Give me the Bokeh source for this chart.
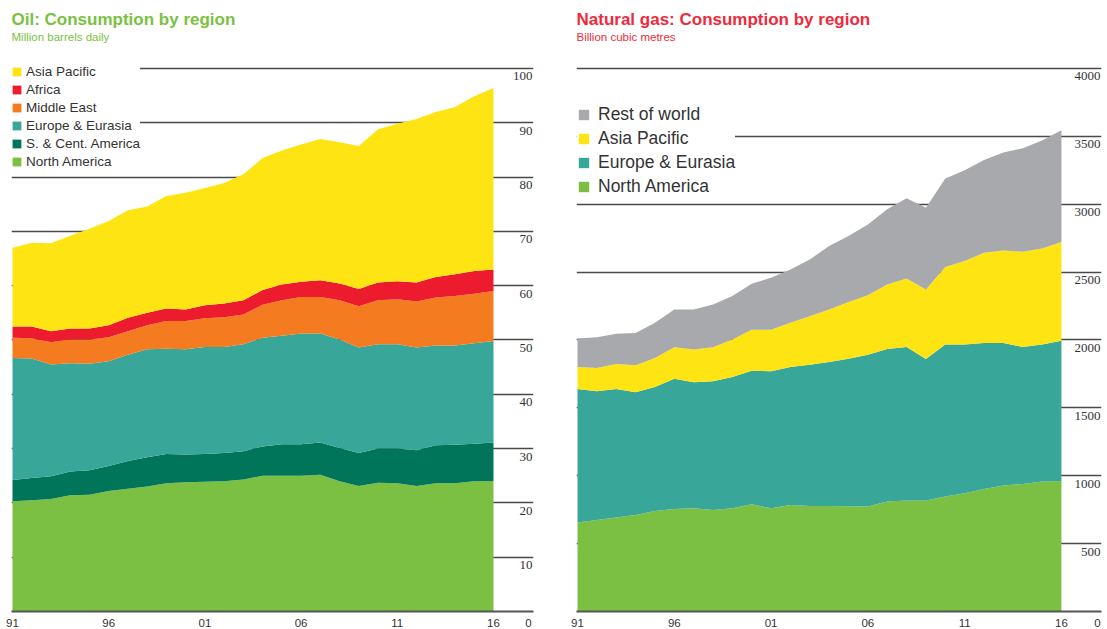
from bokeh.plotting import figure
from bokeh.models import (ColumnDataSource, Legend, LegendItem, LabelSet, Title,
                          FixedTicker, Range1d, Grid)
from bokeh.layouts import row
from bokeh.embed import file_html
from bokeh.resources import INLINE

years = list(range(1991, 2017))
year_ticks = [1991, 1996, 2001, 2006, 2011, 2016]
year_labels = ["91", "96", "01", "06", "11", "16"]

# Oil consumption, million barrels daily
oil_north_america = [20.3, 20.5, 20.7, 21.4, 21.5, 22.2, 22.6, 23.0, 23.6, 23.8, 23.9, 24.0, 24.3,
                     25.0, 25.0, 25.0, 25.2, 24.0, 23.1, 23.7, 23.6, 23.1, 23.6, 23.6, 24.0, 24.0]
oil_sc_america = [3.9, 4.1, 4.2, 4.4, 4.5, 4.6, 5.1, 5.4, 5.4, 5.1, 5.1, 5.2, 5.2,
                  5.4, 5.8, 5.8, 5.9, 6.1, 6.1, 6.3, 6.4, 6.6, 7.0, 7.1, 6.9, 7.1]
oil_europe_eurasia = [22.5, 22.0, 20.6, 19.9, 19.6, 19.3, 19.6, 19.9, 19.4, 19.4, 19.7, 19.5, 19.7,
                      20.0, 20.0, 20.4, 20.1, 20.0, 19.4, 19.2, 19.2, 18.9, 18.4, 18.3, 18.5, 18.7]
oil_middle_east = [3.7, 3.7, 4.1, 4.4, 4.5, 4.4, 4.3, 4.4, 5.1, 5.2, 5.3, 5.5, 5.5,
                   6.1, 6.5, 6.7, 6.7, 7.2, 7.6, 8.1, 8.3, 8.5, 8.8, 9.1, 9.1, 9.2]
oil_africa = [2.1, 2.2, 2.0, 2.0, 2.0, 2.2, 2.5, 2.3, 2.3, 2.1, 2.4, 2.5, 2.6,
              2.7, 2.9, 2.8, 3.1, 3.1, 3.2, 3.3, 3.3, 3.5, 3.8, 4.0, 4.2, 4.0]
oil_asia_pacific = [14.5, 15.4, 16.2, 17.1, 18.4, 19.2, 19.8, 19.6, 20.7, 21.5, 21.6, 22.2, 23.2,
                    24.3, 24.7, 25.3, 26.0, 26.0, 26.3, 28.2, 29.0, 30.1, 30.4, 30.8, 32.2, 33.4]
oil_ticks = [10, 20, 30, 40, 50, 60, 70, 80, 90, 100]
oil_tick_labels = ["10", "20", "30", "40", "50", "60", "70", "80", "90", "100"]

# Natural gas consumption, billion cubic metres
gas_north_america = [655, 674, 692, 711, 741, 755, 760, 748, 760, 790, 760, 785, 777,
                     777, 775, 773, 810, 817, 817, 847, 871, 903, 928, 940, 957, 962]
gas_europe_eurasia = [984, 948, 947, 903, 912, 960, 928, 947, 967, 984, 1009, 1016, 1041,
                      1061, 1087, 1119, 1124, 1132, 1043, 1119, 1095, 1075, 1050, 1009, 1009, 1033]
gas_asia_pacific = [162, 172, 184, 199, 214, 231, 241, 251, 276, 302, 307, 325, 357,
                    386, 417, 438, 474, 504, 512, 571, 615, 664, 681, 701, 708, 726]
gas_rest_of_world = [209, 226, 222, 239, 259, 278, 295, 315, 320, 338, 382, 393, 418,
                     468, 487, 521, 554, 590, 602, 653, 669, 683, 721, 762, 795, 824]
gas_ticks = [500, 1000, 1500, 2000, 2500, 3000, 3500, 4000]
gas_tick_labels = ["500", "1000", "1500", "2000", "2500", "3000", "3500", "4000"]

FONT = "Liberation Sans"
TXT = "#333333"
GRID = "#4a4a4a"
C_NA = "#7bc043"
C_SCA = "#00755a"
C_EE = "#38a698"
C_ME = "#f47b20"
C_AF = "#ec1c2e"
C_AP = "#ffe414"
C_ROW = "#a7a9ac"


def make_fig(width, border_left, border_right, x_end, y_top, ticks, tick_labels,
             zero_pos, title, subtitle, title_color):
    p = figure(width=width, height=629, x_range=Range1d(1990.948, x_end),
               y_range=Range1d(0, y_top), output_backend="svg", toolbar_location=None,
               y_axis_location=None, min_border_left=border_left,
               min_border_right=border_right, min_border_top=42, min_border_bottom=0)
    p.outline_line_color = None
    p.xgrid.visible = False
    p.ygrid.visible = False
    g = Grid(dimension=1, ticker=FixedTicker(ticks=ticks), grid_line_color=GRID,
             grid_line_width=1.6)
    p.add_layout(g)
    ax = p.xaxis[0]
    ax.ticker = FixedTicker(ticks=year_ticks + [zero_pos])
    overrides = {t: l for t, l in zip(year_ticks, year_labels)}
    overrides[zero_pos] = "0"
    ax.major_label_overrides = overrides
    ax.major_tick_line_color = None
    ax.minor_tick_line_color = None
    ax.axis_line_color = "#555555"
    ax.axis_line_width = 2
    ax.major_label_standoff = 1
    ax.major_label_text_font = FONT
    ax.major_label_text_font_size = "11.5px"
    ax.major_label_text_color = TXT
    p.add_layout(Title(text=subtitle, text_font=FONT, text_font_size="11.5px",
                       text_color=title_color, text_font_style="normal",
                       align="left", standoff=0), "above")
    p.add_layout(Title(text=title, text_font=FONT, text_font_size="17px",
                       text_color=title_color, text_font_style="bold",
                       align="left", standoff=0), "above")
    lsrc = ColumnDataSource(dict(x=[x_end] * len(ticks), y=ticks, t=tick_labels))
    p.add_layout(LabelSet(x="x", y="y", text="t", source=lsrc, text_align="right",
                          text_baseline="top", y_offset=-4, x_offset=-1,
                          text_font=FONT, text_font_size="13px", text_color=TXT))
    return p


# ---- Oil
oil_src = ColumnDataSource(dict(year=years, na=oil_north_america, sca=oil_sc_america,
                                ee=oil_europe_eurasia, me=oil_middle_east,
                                af=oil_africa, ap=oil_asia_pacific))
p1 = make_fig(560, 11, 27, 2018.08, 104.78, oil_ticks, oil_tick_labels, 2017.82,
              "Oil: Consumption by region", "Million barrels daily", "#7ac143")
oil_r = p1.varea_stack(stackers=["na", "sca", "ee", "me", "af", "ap"], x="year",
                       source=oil_src, color=[C_NA, C_SCA, C_EE, C_ME, C_AF, C_AP])
oil_names = ["North America", "S. & Cent. America", "Europe & Eurasia", "Middle East",
             "Africa", "Asia Pacific"]
leg1 = Legend(items=[LegendItem(label=n, renderers=[r]) for n, r in
                     reversed(list(zip(oil_names, oil_r)))],
              location=(0, 442), glyph_width=11, glyph_height=11, label_height=14,
              spacing=3, padding=1, margin=0, label_standoff=4,
              label_text_font=FONT, label_text_font_size="13.5px", label_text_color=TXT,
              border_line_color=None, background_fill_color="white", background_fill_alpha=1)
p1.add_layout(leg1)

# ---- Natural gas
gas_src = ColumnDataSource(dict(year=years, na=gas_north_america, ee=gas_europe_eurasia,
                                ap=gas_asia_pacific, rw=gas_rest_of_world))
p2 = make_fig(547, 16, 6, 2018.07, 4191.0, gas_ticks, gas_tick_labels, 2017.86,
              "Natural gas: Consumption by region", "Billion cubic metres", "#ee2a3c")
gas_r = p2.varea_stack(stackers=["na", "ee", "ap", "rw"], x="year", source=gas_src,
                       color=[C_NA, C_EE, C_AP, C_ROW])
gas_names = ["North America", "Europe & Eurasia", "Asia Pacific", "Rest of world"]
leg2 = Legend(items=[LegendItem(label=n, renderers=[r]) for n, r in
                     reversed(list(zip(gas_names, gas_r)))],
              location=(1, 414), glyph_width=13, glyph_height=13, label_height=19,
              spacing=3, padding=2, margin=0, label_standoff=8,
              label_text_font=FONT, label_text_font_size="17.5px", label_text_color=TXT,
              border_line_color=None, background_fill_color="white", background_fill_alpha=1)
p2.add_layout(leg2)

layout = row(p1, p2)
open("out.html", "w").write(file_html(layout, INLINE))
